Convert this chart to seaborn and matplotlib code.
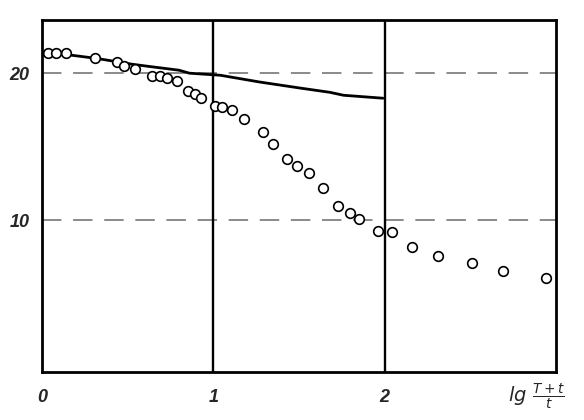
import matplotlib
matplotlib.use("Agg")
from matplotlib import pyplot as plt
import seaborn as sns

# solid curve
line_x = [0.03, 0.32, 0.53, 0.63, 0.80, 0.86, 1.04, 1.27, 1.50, 1.68, 1.76, 1.99]
line_y = [21.43, 21.0, 20.6, 20.45, 20.2, 20.0, 19.86, 19.4, 19.0, 18.7, 18.5, 18.3]

# open circles
pts_x = [0.035, 0.08, 0.14, 0.31, 0.44, 0.48, 0.54, 0.64, 0.69, 0.73, 0.79, 0.85,
         0.89, 0.93, 1.01, 1.05, 1.11, 1.18, 1.29, 1.35, 1.43, 1.49, 1.56, 1.64,
         1.73, 1.80, 1.85, 1.96, 2.04, 2.16, 2.31, 2.51, 2.69, 2.94]
pts_y = [21.36, 21.36, 21.36, 21.0, 20.75, 20.5, 20.3, 19.8, 19.8, 19.7, 19.5, 18.8,
         18.6, 18.3, 17.75, 17.7, 17.5, 16.9, 16.0, 15.2, 14.2, 13.7, 13.2, 12.2,
         11.0, 10.5, 10.1, 9.3, 9.2, 8.2, 7.6, 7.1, 6.6, 6.1]

x_ticks = [0, 1, 2]
x_labels = ["0", "1", "2"]
y_ticks = [10, 20]
y_labels = ["10", "20"]
ref_levels = [10, 20]
dividers = [1, 2]

sns.set_style("white")
plt.rcParams['font.family'] = ['Liberation Sans', 'DejaVu Sans']

fig = plt.figure(figsize=(5.84, 4.2), dpi=100)
ax = fig.add_axes([0.072, 0.114, 0.88, 0.838])

for lv in ref_levels:
    ax.axhline(lv, color="#8a8a8a", lw=1.4, dashes=(10, 6), zorder=1)
for d in dividers:
    ax.axvline(d, color="black", lw=1.7, zorder=2)

sns.lineplot(x=line_x, y=line_y, ax=ax, color="black", lw=2.0, sort=False, zorder=3)
sns.scatterplot(x=pts_x, y=pts_y, ax=ax, marker="o", s=48, facecolor="white",
                edgecolor="black", linewidth=1.2, zorder=4)

ax.set_xlim(0, 3)
ax.set_ylim(-0.3, 23.6)
ax.set_xticks(x_ticks)
ax.set_xticklabels(x_labels, fontsize=13, style="italic", fontweight="bold")
ax.set_yticks(y_ticks)
ax.set_yticklabels(y_labels, fontsize=13, style="italic", fontweight="bold")
ax.tick_params(axis="x", length=0, pad=12)
ax.tick_params(axis="y", length=0, pad=9)
for s in ax.spines.values():
    s.set_color("black")
    s.set_linewidth(2)

ax.text(2.72, -2.0, r"$\mathit{lg}\ \frac{T+t}{t}$", fontsize=14, ha="left", va="center",
        clip_on=False)

plt.savefig("out.png", dpi=100)
